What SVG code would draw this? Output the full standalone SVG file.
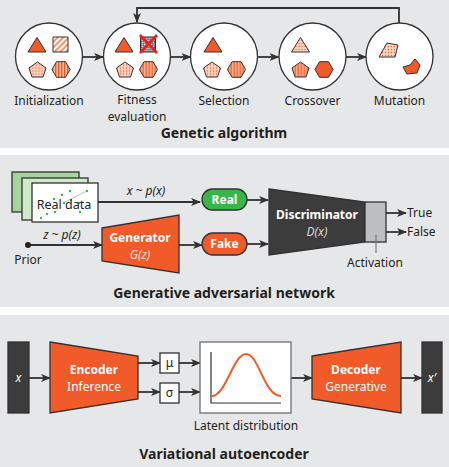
<svg xmlns="http://www.w3.org/2000/svg" width="449" height="467" viewBox="0 0 449 467">
<style>
.panel{fill:#e6e7e8}
.t{font-family:"Noto Sans","Open Sans",sans-serif;fill:#231f20;font-size:12px}
.c{text-anchor:middle}
.b{font-weight:bold}
.i{font-style:italic}
.title{font-size:14px;font-weight:bold}
.w{fill:#ffffff}
.ln{fill:none;stroke:#333132;stroke-width:1.8}
.circ{fill:#ffffff;stroke:#333132;stroke-width:1.3}
.sh{stroke:#333132;stroke-width:1;stroke-linejoin:round}
.solid{fill:#f15a29}
.dots{fill:url(#pDots)}
.vstr{fill:url(#pV)}
.diag{fill:url(#pDiag)}
.xh{fill:url(#pX)}
.box{stroke:#333132;stroke-width:1.3}
.orange{fill:#f15a29}
.dark{fill:#3c3c3d}
</style>
<defs>
<marker id="ah" viewBox="0 0 10 8" refX="9" refY="4" markerWidth="5.5" markerHeight="4.4" markerUnits="strokeWidth" orient="auto">
<path d="M0,0 L10,4 L0,8 L2.5,4 Z" fill="#333132"/>
</marker>
<pattern id="pDots" width="3" height="3" patternUnits="userSpaceOnUse">
<rect width="3" height="3" fill="#fcd3bf"/>
<circle cx="1.5" cy="1.5" r="0.7" fill="#f15a29"/>
</pattern>
<pattern id="pV" width="3" height="3" patternUnits="userSpaceOnUse">
<rect width="3" height="3" fill="#fbc3a6"/>
<rect width="1.5" height="3" fill="#f15a29"/>
</pattern>
<pattern id="pDiag" width="4" height="4" patternUnits="userSpaceOnUse" patternTransform="rotate(45)">
<rect width="4" height="4" fill="#ffffff"/>
<rect width="2" height="4" fill="#f7936b"/>
</pattern>
<pattern id="pX" width="3" height="3" patternUnits="userSpaceOnUse" patternTransform="rotate(45)">
<rect width="3" height="3" fill="#ffffff"/>
<rect width="1.5" height="1.5" fill="#333132"/>
<rect x="1.5" y="1.5" width="1.5" height="1.5" fill="#333132"/>
</pattern>
<path id="tri" d="M0,-7.5 L9,7 L-9,7 Z"/>
<rect id="sq" x="-7.5" y="-7.5" width="15" height="15"/>
<path id="pent" d="M0,-7.5 L8.5,-1.5 L5.5,7.5 L-5.5,7.5 L-8.5,-1.5 Z"/>
<path id="hex" d="M-9,0 L-4.5,-7.8 L4.5,-7.8 L9,0 L4.5,7.8 L-4.5,7.8 Z"/>
</defs>

<rect class="panel" x="0" y="0" width="449" height="148"/>
<rect class="panel" x="0" y="155" width="449" height="152"/>
<rect class="panel" x="0" y="315" width="449" height="152"/>

<g id="connectors">
<path class="ln" d="M399,23 V8 H137 V22" marker-end="url(#ah)"/>
<path class="ln" d="M82.5,57 H103" marker-end="url(#ah)"/>
<path class="ln" d="M170,57 H190.5" marker-end="url(#ah)"/>
<path class="ln" d="M257.5,57 H278.5" marker-end="url(#ah)"/>
<path class="ln" d="M345.5,57 H366" marker-end="url(#ah)"/>
<path class="ln" d="M98,202 H200" marker-end="url(#ah)"/>
<path class="ln" d="M28,245 H102" marker-end="url(#ah)"/>
<path class="ln" d="M179,245 H202" marker-end="url(#ah)"/>
<path class="ln" d="M247,200 H268" marker-end="url(#ah)"/>
<path class="ln" d="M247,244 H268" marker-end="url(#ah)"/>
<path class="ln" d="M386,213 H406" marker-end="url(#ah)"/>
<path class="ln" d="M386,232 H406" marker-end="url(#ah)"/>
<path class="ln" d="M29,378 H50" marker-end="url(#ah)"/>
<path class="ln" d="M138,363 H160" marker-end="url(#ah)"/>
<path class="ln" d="M138,392 H160" marker-end="url(#ah)"/>
<path class="ln" d="M179,363 H200" marker-end="url(#ah)"/>
<path class="ln" d="M179,392 H200" marker-end="url(#ah)"/>
<path class="ln" d="M291,378 H312" marker-end="url(#ah)"/>
<path class="ln" d="M401,378 H422" marker-end="url(#ah)"/>
</g>

<g id="ga-initialization">
<circle class="circ" cx="49" cy="56.5" r="33.5"/>
<use href="#tri" class="sh solid" x="37" y="45"/>
<use href="#sq" class="sh diag" x="60.5" y="44.5"/>
<use href="#pent" class="sh dots" x="37.5" y="69.5"/>
<use href="#hex" class="sh vstr" x="61" y="69.5"/>
<text class="t c" x="49" y="105">Initialization</text>
</g>

<g id="ga-fitness">
<circle class="circ" cx="137" cy="56.5" r="33.5"/>
<use href="#tri" class="sh solid" x="124" y="45"/>
<use href="#sq" class="sh xh" x="148" y="44.5"/>
<path d="M140,35 L157,53 M157,35 L140,53" stroke="#ed1c24" stroke-width="2.6" fill="none"/>
<use href="#pent" class="sh dots" x="125" y="69.5"/>
<use href="#hex" class="sh vstr" x="148.5" y="69.5"/>
<text class="t c" x="137" y="104">Fitness</text>
<text class="t c" x="137" y="120.5">evaluation</text>
</g>

<g id="ga-selection">
<circle class="circ" cx="224" cy="56.5" r="33.5"/>
<use href="#tri" class="sh solid" x="213" y="45"/>
<use href="#pent" class="sh dots" x="212" y="69.5"/>
<use href="#hex" class="sh vstr" x="236.5" y="69.5"/>
<text class="t c" x="224" y="105">Selection</text>
</g>

<g id="ga-crossover">
<circle class="circ" cx="312.5" cy="56.5" r="33.5"/>
<use href="#tri" class="sh dots" x="300.5" y="45"/>
<use href="#pent" class="sh vstr" x="300.5" y="69.5"/>
<use href="#hex" class="sh solid" x="324" y="69.5"/>
<text class="t c" x="312.5" y="105">Crossover</text>
</g>

<g id="ga-mutation">
<circle class="circ" cx="399.5" cy="56.5" r="33.5"/>
<path class="sh dots" d="M379,57 L387,43 L398,45 L395,57 Z"/>
<path class="sh solid" d="M403,67 L410,65 L415,59 L420,65 L417,73 L407,74 Z"/>
<text class="t c" x="399.5" y="105">Mutation</text>
</g>

<text class="t c title" x="224" y="138">Genetic algorithm</text>

<g id="gan-realdata">
<rect x="12" y="172" width="67" height="40" fill="#a6d49f" class="box"/>
<rect x="22" y="178" width="66" height="42" fill="#cfe9ca" class="box"/>
<rect x="32" y="183" width="66" height="39" fill="#ffffff" class="box"/>
<line x1="63" y1="203" x2="87" y2="191" stroke="#b0b0b0" stroke-width="0.8"/>
<g fill="#39b54a">
<circle cx="41" cy="218" r="1.2"/><circle cx="47" cy="214" r="1.2"/><circle cx="54" cy="199" r="1.2"/>
<circle cx="55" cy="212" r="1.2"/><circle cx="64" cy="203" r="1.2"/><circle cx="70" cy="191" r="1.2"/>
<circle cx="71" cy="200" r="1.2"/><circle cx="79" cy="203" r="1.2"/><circle cx="87" cy="191" r="1.2"/>
<circle cx="62" cy="195" r="1.2"/><circle cx="80" cy="212" r="1.2"/>
</g>
<text class="t c" x="64" y="209" style="font-size:12.5px">Real data</text>
</g>

<text class="t c i" x="146" y="195">x ~ p(x)</text>
<text class="t c i" x="62" y="239">z ~ p(z)</text>

<g id="gan-prior">
<circle cx="28" cy="245" r="3" fill="#231f20"/>
<text class="t c" x="28" y="264">Prior</text>
</g>

<g id="gan-generator">
<path class="orange box" d="M102,228 L179,215 L179,273 L102,261 Z"/>
<text class="t c b w" x="140" y="241.5">Generator</text>
<text class="t c i" x="140" y="258.5" style="fill:#fde0d3">G(z)</text>
</g>

<g id="gan-real">
<rect x="202" y="189" width="45" height="21" rx="10.5" fill="#39b54a" class="box"/>
<text class="t c b w" x="224.5" y="204">Real</text>
</g>

<g id="gan-fake">
<rect x="202" y="233" width="45" height="22" rx="11" fill="#f15a29" class="box"/>
<text class="t c b w" x="224.5" y="248">Fake</text>
</g>

<g id="gan-discriminator">
<path class="dark box" d="M269,189 L365,202 L365,242 L269,255 Z"/>
<text class="t c b w" x="317" y="219">Discriminator</text>
<text class="t c i" x="317" y="236" style="fill:#d9d9d9">D(x)</text>
</g>

<g id="gan-activation">
<rect x="365" y="202" width="21" height="40" fill="#bcbec0" class="box"/>
<line x1="376" y1="235" x2="376" y2="253" stroke="#6d6e71" stroke-width="1"/>
<text class="t c" x="375" y="267">Activation</text>
</g>

<text class="t" x="407" y="217">True</text>
<text class="t" x="407" y="236">False</text>

<text class="t c title" x="224" y="298">Generative adversarial network</text>

<g id="vae-x">
<rect x="8" y="342" width="21" height="71" class="dark box"/>
<text class="t c i w" x="18.5" y="382">x</text>
</g>

<g id="vae-encoder">
<path class="orange box" d="M50,342 L138,356 L138,399 L50,413 Z"/>
<text class="t c b w" x="94" y="374">Encoder</text>
<text class="t c w" x="94" y="391">Inference</text>
</g>

<g id="vae-mu">
<rect x="160" y="353" width="19" height="20" fill="#ffffff" class="box"/>
<text class="t c" x="169.5" y="367">μ</text>
</g>

<g id="vae-sigma">
<rect x="160" y="383" width="19" height="20" fill="#ffffff" class="box"/>
<text class="t c" x="169.5" y="397">σ</text>
</g>

<g id="vae-latent">
<rect x="200" y="342" width="91" height="71" fill="#ffffff" stroke="#6d6e71" stroke-width="1.3"/>
<path d="M211,352 V403 H281" fill="none" stroke="#333132" stroke-width="1.2"/>
<path d="M211,396 C226,397 233,354 246,354 C259,354 264,396 281,396" fill="none" stroke="#f15a29" stroke-width="2"/>
<text class="t c" x="246" y="430">Latent distribution</text>
</g>

<g id="vae-decoder">
<path class="orange box" d="M312,356 L401,342 L401,413 L312,399 Z"/>
<text class="t c b w" x="356" y="374">Decoder</text>
<text class="t c w" x="356" y="391">Generative</text>
</g>

<g id="vae-xprime">
<rect x="422" y="342" width="20" height="71" class="dark box"/>
<text class="t c i w" x="432" y="382">x′</text>
</g>

<text class="t c title" x="224" y="459">Variational autoencoder</text>
</svg>
